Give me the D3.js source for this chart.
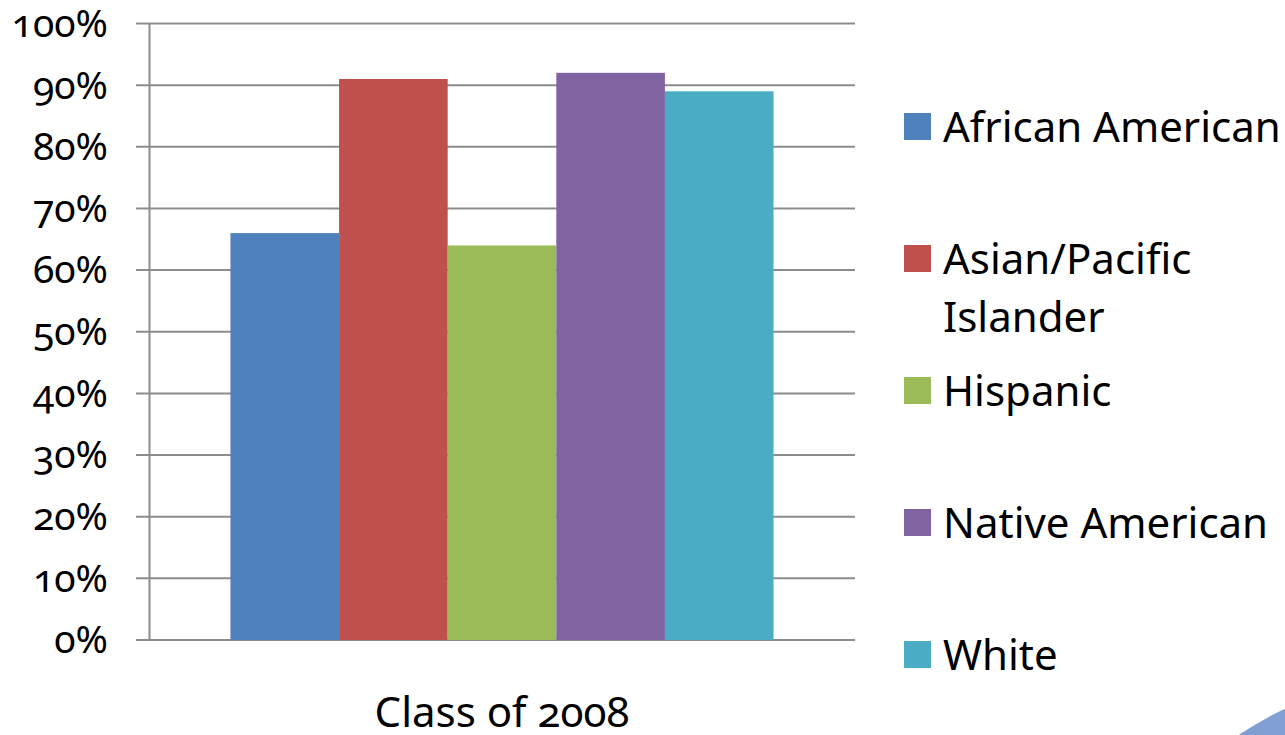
<!DOCTYPE html>
<html>
<head>
<meta charset="utf-8">
<script src="https://cdn.jsdelivr.net/npm/d3@7"></script>
<style>
  html, body { margin: 0; padding: 0; background: #ffffff; }
  svg { display: block; }
  text { font-family: "Noto Sans", "Open Sans", sans-serif; font-variant-numeric: oldstyle-nums; font-feature-settings: "onum" 1; fill: #000; }
</style>
</head>
<body>
<svg id="chart" width="1285" height="735"></svg>
<script>
const categories = ["Class of 2008"];
const seriesNames = ["African American", "Asian/Pacific Islander", "Hispanic", "Native American", "White"];
const seriesValues = [0.66, 0.91, 0.64, 0.92, 0.89];
const seriesColors = ["#4F81BD", "#C0504D", "#9BBB59", "#8064A2", "#4BACC6"];
const tickValues = [0, 0.1, 0.2, 0.3, 0.4, 0.5, 0.6, 0.7, 0.8, 0.9, 1.0];
const tickLabels = ["0%", "10%", "20%", "30%", "40%", "50%", "60%", "70%", "80%", "90%", "100%"];
const legendLines = [["African American"], ["Asian/Pacific", "Islander"], ["Hispanic"], ["Native American"], ["White"]];

const svg = d3.select("#chart");
const plot = { left: 149, right: 855, top: 23.5, bottom: 640 };

// decorative corner shape (slide background)
svg.append("circle")
  .attr("cx", 1420).attr("cy", 1000).attr("r", 321)
  .attr("fill", "#819fd3");

const y = d3.scaleLinear().domain([0, 1]).range([plot.bottom, plot.top]);
const x0 = d3.scaleBand().domain(categories).range([plot.left, plot.right]).padding(0);
const x1 = d3.scaleBand().domain(seriesNames).range([0, x0.bandwidth()]).paddingInner(0).paddingOuter(0.75);

// gridlines
svg.append("g").selectAll("line").data(tickValues).join("line")
  .attr("x1", plot.left - 13).attr("x2", plot.right)
  .attr("y1", d => y(d)).attr("y2", d => y(d))
  .attr("stroke", "#8c8c8c").attr("stroke-width", 2);

// bars
const groups = svg.append("g").selectAll("g").data(categories).join("g")
  .attr("transform", d => `translate(${x0(d)},0)`);
groups.selectAll("rect").data(seriesNames.map((n, i) => ({ n, v: seriesValues[i], c: seriesColors[i] }))).join("rect")
  .attr("x", d => x1(d.n)).attr("width", x1.bandwidth())
  .attr("y", d => y(d.v)).attr("height", d => y(0) - y(d.v))
  .attr("fill", d => d.c);

// y axis
const yAxis = d3.axisLeft(y).tickValues(tickValues)
  .tickFormat((d, i) => tickLabels[i]).tickSizeInner(13).tickSizeOuter(0).tickPadding(28);
const ag = svg.append("g").attr("transform", `translate(${plot.left},0)`).call(yAxis);
ag.select(".domain").attr("stroke", "#8c8c8c").attr("stroke-width", 2);
ag.selectAll(".tick line").attr("stroke", "none");
ag.selectAll(".tick text").style("font-size", "39px").attr("fill", "#000").attr("dy", "0.33em");
ag.attr("font-family", null);

// x category label
svg.append("g").selectAll("text").data(categories).join("text")
  .attr("x", d => x0(d) + x0.bandwidth() / 2).attr("y", 727)
  .attr("text-anchor", "middle").style("font-size", "42px").text(d => d);

// legend
const legendY = d3.scalePoint().domain(seriesNames).range([126.5, 654.5]);
const lg = svg.append("g").selectAll("g").data(seriesNames).join("g")
  .attr("transform", d => `translate(904,${legendY(d)})`);
lg.append("rect").attr("x", 0).attr("y", -13.5).attr("width", 27).attr("height", 27)
  .attr("fill", (d, i) => seriesColors[i]);
lg.append("text").attr("x", 39).attr("y", 15).style("font-size", "42px")
  .selectAll("tspan").data((d, i) => legendLines[i]).join("tspan")
  .attr("x", 39).attr("dy", (d, j) => j === 0 ? 0 : 58).text(d => d);
</script>
</body>
</html>
